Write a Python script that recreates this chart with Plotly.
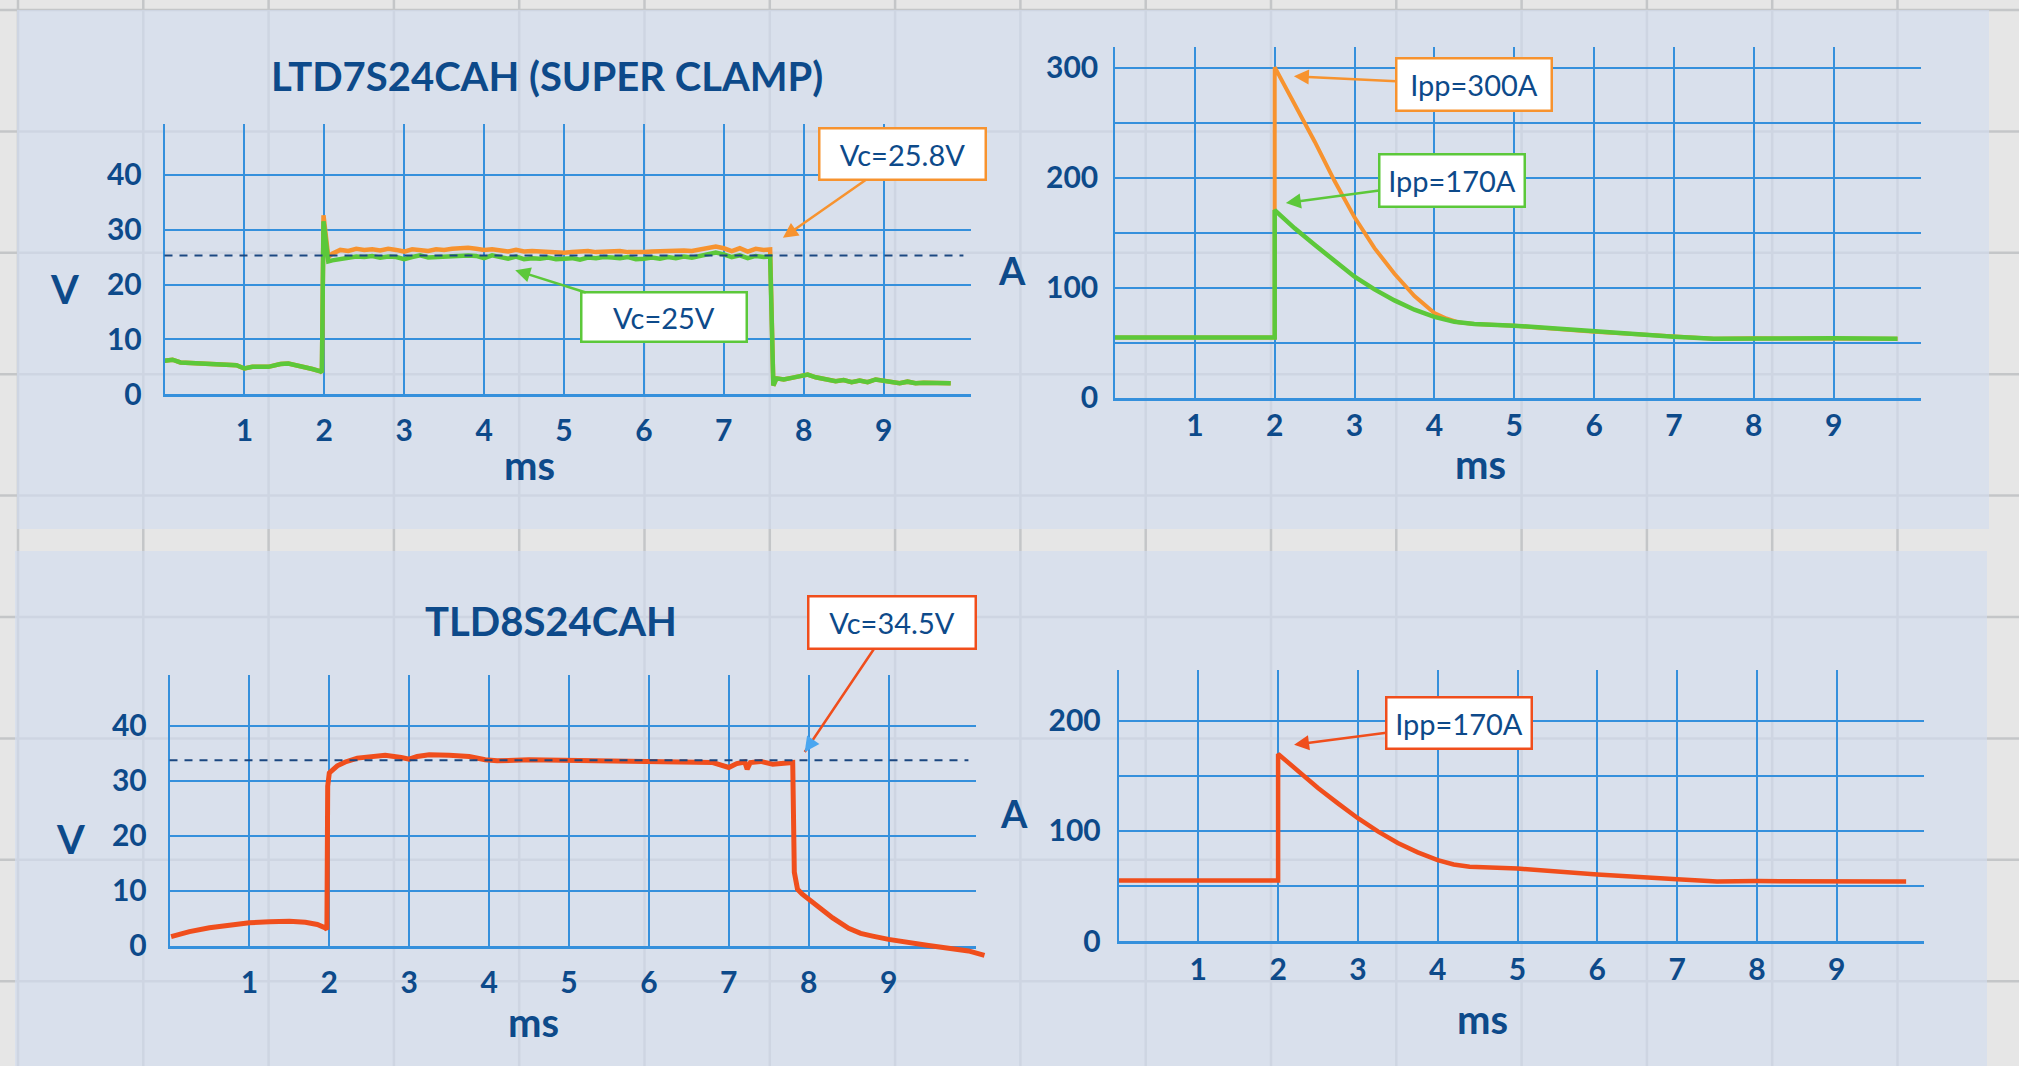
import plotly.graph_objects as go

W, H = 2019, 1066

# ---------------- data ----------------
# Chart 1: LTD7S24CAH (SUPER CLAMP) clamp voltage, V vs ms
v1_pre_t = [0.00, 0.10, 0.20, 0.30, 0.50, 0.70, 0.90, 1.00, 1.10, 1.30, 1.45, 1.55, 1.70, 1.85, 1.95]
v1_pre_v = [6.1, 6.3, 5.8, 5.7, 5.6, 5.5, 5.3, 4.7, 5.0, 5.0, 5.5, 5.6, 5.2, 4.6, 4.2]
v1_spike_t = [1.97, 1.99, 2.02, 2.05]
v1_green_spike = [4.0, 31.5, 28.0, 24.2]
v1_orange_spike = [4.0, 32.6, 28.5, 25.0]
v1_plateau_t = [2.1, 2.2, 2.3, 2.4, 2.5, 2.6, 2.7, 2.8, 2.9, 3.0,
                3.1, 3.2, 3.3, 3.4, 3.5, 3.6, 3.7, 3.8, 3.9, 4.0,
                4.1, 4.2, 4.3, 4.4, 4.5, 4.6, 4.7, 4.8, 4.9, 5.0,
                5.1, 5.2, 5.3, 5.4, 5.5, 5.6, 5.7, 5.8, 5.9, 6.0,
                6.1, 6.2, 6.3, 6.4, 6.5, 6.6, 6.7, 6.8, 6.9, 7.0,
                7.1, 7.2, 7.3, 7.4, 7.5, 7.58]
v1_green_plateau = [24.4, 24.6, 24.9, 25.1, 25.0, 25.2, 24.9, 25.1, 25.0, 24.6,
                    25.0, 25.3, 24.9, 25.0, 25.2, 25.1, 25.4, 25.3, 25.2, 24.8,
                    25.3, 24.9, 24.7, 25.1, 24.6, 24.8, 24.7, 24.9, 24.6, 24.7,
                    24.8, 24.5, 24.9, 24.8, 25.0, 24.9, 24.8, 25.0, 24.6, 24.7,
                    24.9, 24.7, 25.0, 24.8, 25.1, 24.9, 25.2, 25.4, 25.8, 25.5,
                    25.0, 25.3, 24.8, 25.2, 25.0, 25.1]
v1_orange_plateau = [25.6, 26.3, 26.1, 26.5, 26.3, 26.4, 26.2, 26.5, 26.3, 26.0,
                     26.4, 26.2, 26.1, 26.4, 26.3, 26.5, 26.6, 26.7, 26.5, 26.3,
                     26.4, 26.2, 26.0, 26.3, 26.0, 26.1, 26.0, 25.9, 26.0, 25.8,
                     25.9, 26.0, 26.1, 25.9, 26.0, 26.2, 26.1, 25.9, 25.8, 25.9,
                     26.0, 26.1, 26.0, 26.1, 26.2, 26.1, 26.3, 26.5, 26.9, 26.6,
                     26.1, 26.6, 26.0, 26.5, 26.3, 26.4]
v1_post_t = [7.62, 7.66, 7.75, 7.85, 7.95, 8.05, 8.15, 8.3, 8.4, 8.5, 8.6, 8.7,
             8.8, 8.9, 9.0, 9.1, 9.2, 9.3, 9.4, 9.5, 9.6, 9.7, 9.84]
v1_post_v = [1.6, 2.9, 2.7, 3.0, 3.3, 3.6, 3.1, 2.8, 2.4, 2.6, 2.2, 2.5,
             2.2, 2.7, 2.5, 2.2, 2.0, 2.3, 2.0, 2.1, 2.1, 2.0, 2.0]
v1_clamp_ref = 25.3

# Chart 2: current, A vs ms
i2_green_t = [0.0, 1.0, 2.0, 2.0, 2.25, 2.5, 2.75, 3.0, 3.25, 3.5, 3.75, 4.0, 4.25, 4.5,
              5.0, 6.0, 7.0, 7.5, 8.0, 9.0, 9.8]
i2_green_v = [54.7, 54.7, 54.7, 170.6, 154, 139, 124, 110, 98.5, 88.5, 80, 73.5, 69, 67,
              65.5, 60, 55.5, 53.5, 54, 54, 53.5]
i2_orange_t = [0.0, 1.0, 2.0, 2.0, 2.25, 2.5, 2.75, 3.0, 3.25, 3.5, 3.75, 4.0, 4.15, 4.3, 4.5,
               5.0, 6.0, 7.0, 7.5, 8.0, 9.0, 9.8]
i2_orange_v = [54.7, 54.7, 54.7, 300.6, 267.7, 233, 197, 164, 136, 112.7, 92.5, 77, 72, 68.5, 67,
               65.5, 60, 55.5, 53.5, 54, 54, 53.5]

# Chart 3: TLD8S24CAH clamp voltage, V vs ms
v3_t = [0.02, 0.25, 0.5, 0.75, 1.0, 1.25, 1.5, 1.7, 1.85, 1.95, 1.97, 1.98, 2.0, 2.1, 2.2,
        2.35, 2.5, 2.7, 2.9, 3.0, 3.1, 3.25, 3.5, 3.75, 3.95, 4.1, 4.5, 5.0, 5.5, 6.0,
        6.5, 6.8, 7.0, 7.1, 7.2, 7.23, 7.27, 7.4, 7.55, 7.7, 7.8, 7.82, 7.86, 7.92,
        8.1, 8.3, 8.5, 8.65, 8.8, 9.0, 9.5, 10.0, 10.2]
v3_v = [1.7, 2.6, 3.3, 3.8, 4.2, 4.4, 4.5, 4.3, 3.9, 3.3, 3.0, 29.0, 31.4, 32.7, 33.4,
        34.1, 34.4, 34.6, 34.2, 33.9, 34.4, 34.7, 34.6, 34.4, 33.8, 33.6, 33.8, 33.7, 33.6, 33.5,
        33.4, 33.3, 32.4, 33.1, 33.4, 32.1, 33.3, 33.5, 33.0, 33.1, 33.3, 13.4, 10.3, 9.4,
        7.3, 5.1, 3.2, 2.3, 1.8, 1.2, 0.1, -0.9, -1.7]
v3_clamp_ref = 33.7

# Chart 4: current, A vs ms
i4_t = [0.0, 1.0, 2.0, 2.0, 2.25, 2.5, 2.75, 3.0, 3.25, 3.5, 3.75, 4.0, 4.2, 4.4,
        5.0, 6.0, 7.0, 7.5, 8.0, 9.0, 9.87]
i4_v = [55, 55, 55, 169.9, 154, 139, 125, 111.5, 99.5, 89, 80.5, 73.5, 69.5, 67.5,
        65.8, 60.3, 56.0, 54.0, 54.4, 54.4, 54.0]

x_ticks = [1, 2, 3, 4, 5, 6, 7, 8, 9]
v_ticks = [0, 10, 20, 30, 40]
i2_ticks = [0, 50, 100, 150, 200, 250, 300]
i2_ticktext = ["0", "", "100", "", "200", "", "300"]
i4_ticks = [0, 50, 100, 150, 200]
i4_ticktext = ["0", "", "100", "", "200"]

# ---------------- style ----------------
NAVY = "#0d4a8a"
GRID = "#3590dc"
GREEN = "#5cc83a"
ORANGE = "#f7932f"
RED = "#f04e1c"
FONT = "Lato"
SHEET_BG = "#e6e6e6"
SHEET_LINE = "#c4c6c8"
PANEL = "rgba(211,220,238,0.67)"

# pixel geometry for each subplot: x0 px, px per unit, y0 px, px per unit, ranges
geom = {
    1: dict(x0=164.5, xs=79.9, y0=394.3, ys=5.49, xr=[0, 10.1], yr=[0, 49.2], xso=8, yso=15),
    2: dict(x0=1115.0, xs=79.85, y0=397.7, ys=1.0997, xr=[0, 10.1], yr=[0, 318.5], xso=0, yso=9),
    3: dict(x0=169.5, xs=79.9, y0=946.0, ys=5.51, xr=[0, 10.1], yr=[0, 49.1], xso=8, yso=15),
    4: dict(x0=1118.5, xs=79.8, y0=941.0, ys=1.101, xr=[0, 10.1], yr=[0, 246], xso=0, yso=10),
    5: dict(x0=169.5, xs=79.9, y0=946.0, ys=5.51, xr=[0, 10.45], yr=[-3.5, 49.1]),
}


def px(x):
    return x / W


def py(y):
    return 1 - y / H


fig = go.Figure()

tickfont = dict(family=FONT, size=30, color=NAVY, weight=700)

for k, g in geom.items():
    dx = [px(g["x0"] + g["xr"][0] * g["xs"]), px(g["x0"] + g["xr"][1] * g["xs"])]
    dy = [py(g["y0"] - g["yr"][0] * g["ys"]), py(g["y0"] - g["yr"][1] * g["ys"])]
    xa = dict(domain=dx, range=g["xr"], anchor=f"y{k}", fixedrange=True, automargin=False)
    ya = dict(domain=dy, range=g["yr"], anchor=f"x{k}", fixedrange=True, automargin=False)
    if k == 5:
        xa.update(visible=False, showgrid=False)
        ya.update(visible=False, showgrid=False)
    else:
        xa.update(tickvals=x_ticks, showgrid=True, gridcolor=GRID, gridwidth=1.5,
                  showline=True, linecolor=GRID, linewidth=2.5, zeroline=False,
                  ticks="", tickfont=tickfont, ticklabelstandoff=g["xso"])
        if k in (1, 3):
            ya.update(tickvals=v_ticks)
        elif k == 2:
            ya.update(tickvals=i2_ticks, ticktext=i2_ticktext)
        else:
            ya.update(tickvals=i4_ticks, ticktext=i4_ticktext)
        ya.update(showgrid=True, gridcolor=GRID, gridwidth=1.5,
                  showline=True, linecolor=GRID, linewidth=1.5, zeroline=False,
                  ticks="", tickfont=tickfont, ticklabelstandoff=g["yso"])
    name = "" if k == 1 else str(k)
    fig.update_layout(**{f"xaxis{name}": xa, f"yaxis{name}": ya})

# chart 1 traces
fig.add_trace(go.Scatter(
    x=v1_pre_t + v1_spike_t + v1_plateau_t + v1_post_t,
    y=v1_pre_v + v1_orange_spike + v1_orange_plateau + v1_post_v,
    mode="lines", line=dict(color=ORANGE, width=4.5), xaxis="x", yaxis="y"))
fig.add_trace(go.Scatter(
    x=v1_pre_t + v1_spike_t + v1_plateau_t + v1_post_t,
    y=v1_pre_v + v1_green_spike + v1_green_plateau + v1_post_v,
    mode="lines", line=dict(color=GREEN, width=4.5), xaxis="x", yaxis="y"))
# chart 2 traces
fig.add_trace(go.Scatter(x=i2_orange_t, y=i2_orange_v, mode="lines",
                         line=dict(color=ORANGE, width=4), xaxis="x2", yaxis="y2"))
fig.add_trace(go.Scatter(x=i2_green_t, y=i2_green_v, mode="lines",
                         line=dict(color=GREEN, width=4.5), xaxis="x2", yaxis="y2"))
# chart 3 trace (on extended invisible axes so the tail can leave the grid)
fig.add_trace(go.Scatter(x=v3_t, y=v3_v, mode="lines",
                         line=dict(color=RED, width=5), xaxis="x5", yaxis="y5"))
# chart 4 trace
fig.add_trace(go.Scatter(x=i4_t, y=i4_v, mode="lines",
                         line=dict(color=RED, width=4.5), xaxis="x4", yaxis="y4"))

# ---------------- shapes: sheet background, panels, dashed clamp lines ----------------
shapes = []
col_x = [18 + 125.3 * i for i in range(17)]
row_y = [10 + 121.4 * i for i in range(9)]
for cx in col_x:
    shapes.append(dict(type="line", xref="paper", yref="paper", x0=px(cx), x1=px(cx), y0=0, y1=1,
                       line=dict(color=SHEET_LINE, width=2.5), layer="below"))
for ry in row_y:
    shapes.append(dict(type="line", xref="paper", yref="paper", x0=0, x1=1, y0=py(ry), y1=py(ry),
                       line=dict(color=SHEET_LINE, width=2.5), layer="below"))
shapes.append(dict(type="rect", xref="paper", yref="paper", x0=px(17), x1=px(1989),
                   y0=py(529), y1=py(10), fillcolor=PANEL, line=dict(width=0), layer="below"))
shapes.append(dict(type="rect", xref="paper", yref="paper", x0=px(15), x1=px(1987),
                   y0=0, y1=py(551), fillcolor=PANEL, line=dict(width=0), layer="below"))
shapes.append(dict(type="line", xref="x domain", yref="y", x0=0, x1=0.99,
                   y0=v1_clamp_ref, y1=v1_clamp_ref,
                   line=dict(color="#1b4780", width=2, dash="8px,7px"), layer="above"))
shapes.append(dict(type="line", xref="x3 domain", yref="y3", x0=0, x1=0.99,
                   y0=v3_clamp_ref, y1=v3_clamp_ref,
                   line=dict(color="#1b4780", width=2, dash="8px,7px"), layer="above"))

# ---------------- annotations ----------------
ann = []


def label(text, x, y, size, bold=True):
    ann.append(dict(text=text, xref="paper", yref="paper", x=px(x), y=py(y),
                    xanchor="center", yanchor="middle", showarrow=False,
                    font=dict(family=FONT, size=size, color=NAVY, weight=700 if bold else 400)))


label("LTD7S24CAH (SUPER CLAMP)", 547, 76, 40)
label("TLD8S24CAH", 551, 621, 40)
label("V", 64, 289, 40)
label("V", 70, 839, 40)
label("A", 1012, 270, 38)
label("A", 1014, 813, 38)
label("ms", 529, 465, 40)
label("ms", 1480, 464, 40)
label("ms", 533, 1022, 40)
label("ms", 1482, 1019, 40)


def callout(text, xref, yref, hx, hy, ax, ay, w, h, color, arrowcolor=None, head=2):
    ann.append(dict(text=text, xref=xref, yref=yref, x=hx, y=hy, ax=ax, ay=ay,
                    showarrow=True, arrowhead=head, arrowsize=1.2, arrowwidth=2.5,
                    arrowcolor=arrowcolor or color, standoff=0, startstandoff=0,
                    width=w - 5, height=h - 5, bgcolor="white", bordercolor=color,
                    borderwidth=2.5, borderpad=0, align="center", valign="middle",
                    font=dict(family=FONT, size=29, color=NAVY)))


callout("Vc=25.8V", "x", "y", 7.74, 28.5, 119.5, -83.6, 169, 54, ORANGE)
callout("Vc=25V", "x", "y", 4.39, 22.6, 149, 47, 168, 52, GREEN)
callout("Ipp=300A", "x2", "y2", 2.24, 292.2, 180, 8.4, 158, 55, ORANGE)
callout("Ipp=170A", "x2", "y2", 2.14, 177, 166, -22.5, 148, 55, GREEN)
callout("Ipp=170A", "x4", "y4", 2.2, 178.3, 165, -21.2, 148, 54, RED)
callout("Vc=34.5V", "x3", "y3", 7.95, 35.2, 87, -129.5, 170, 55, RED, head=0)
# blue arrowhead at the tip of the Vc=34.5V pointer
ann.append(dict(text="", xref="x3", yref="y3", x=7.95, y=35.2, ax=9, ay=-13,
                showarrow=True, arrowhead=2, arrowsize=1.2, arrowwidth=2.5,
                arrowcolor="#4aa6f0", standoff=0, startstandoff=0))

fig.update_layout(
    width=W, height=H, autosize=False,
    margin=dict(l=0, r=0, t=0, b=0, pad=0, autoexpand=False),
    paper_bgcolor=SHEET_BG, plot_bgcolor="rgba(0,0,0,0)",
    showlegend=False, shapes=shapes, annotations=ann,
    font=dict(family=FONT, color=NAVY),
)

# page CSS (no body margin) applied while the page is parsed
page_css = ('data:text/javascript,0;"></script>'
            '<style>html,body{margin:0;padding:0;overflow:hidden;background:#e6e6e6}</style>'
            '<script src="data:text/javascript,0;//.js')

fig.write_html("out.html", config={"displayModeBar": False, "responsive": False},
               include_mathjax=page_css,
               post_script="document.body.style.margin='0';document.body.style.overflow='hidden';")
